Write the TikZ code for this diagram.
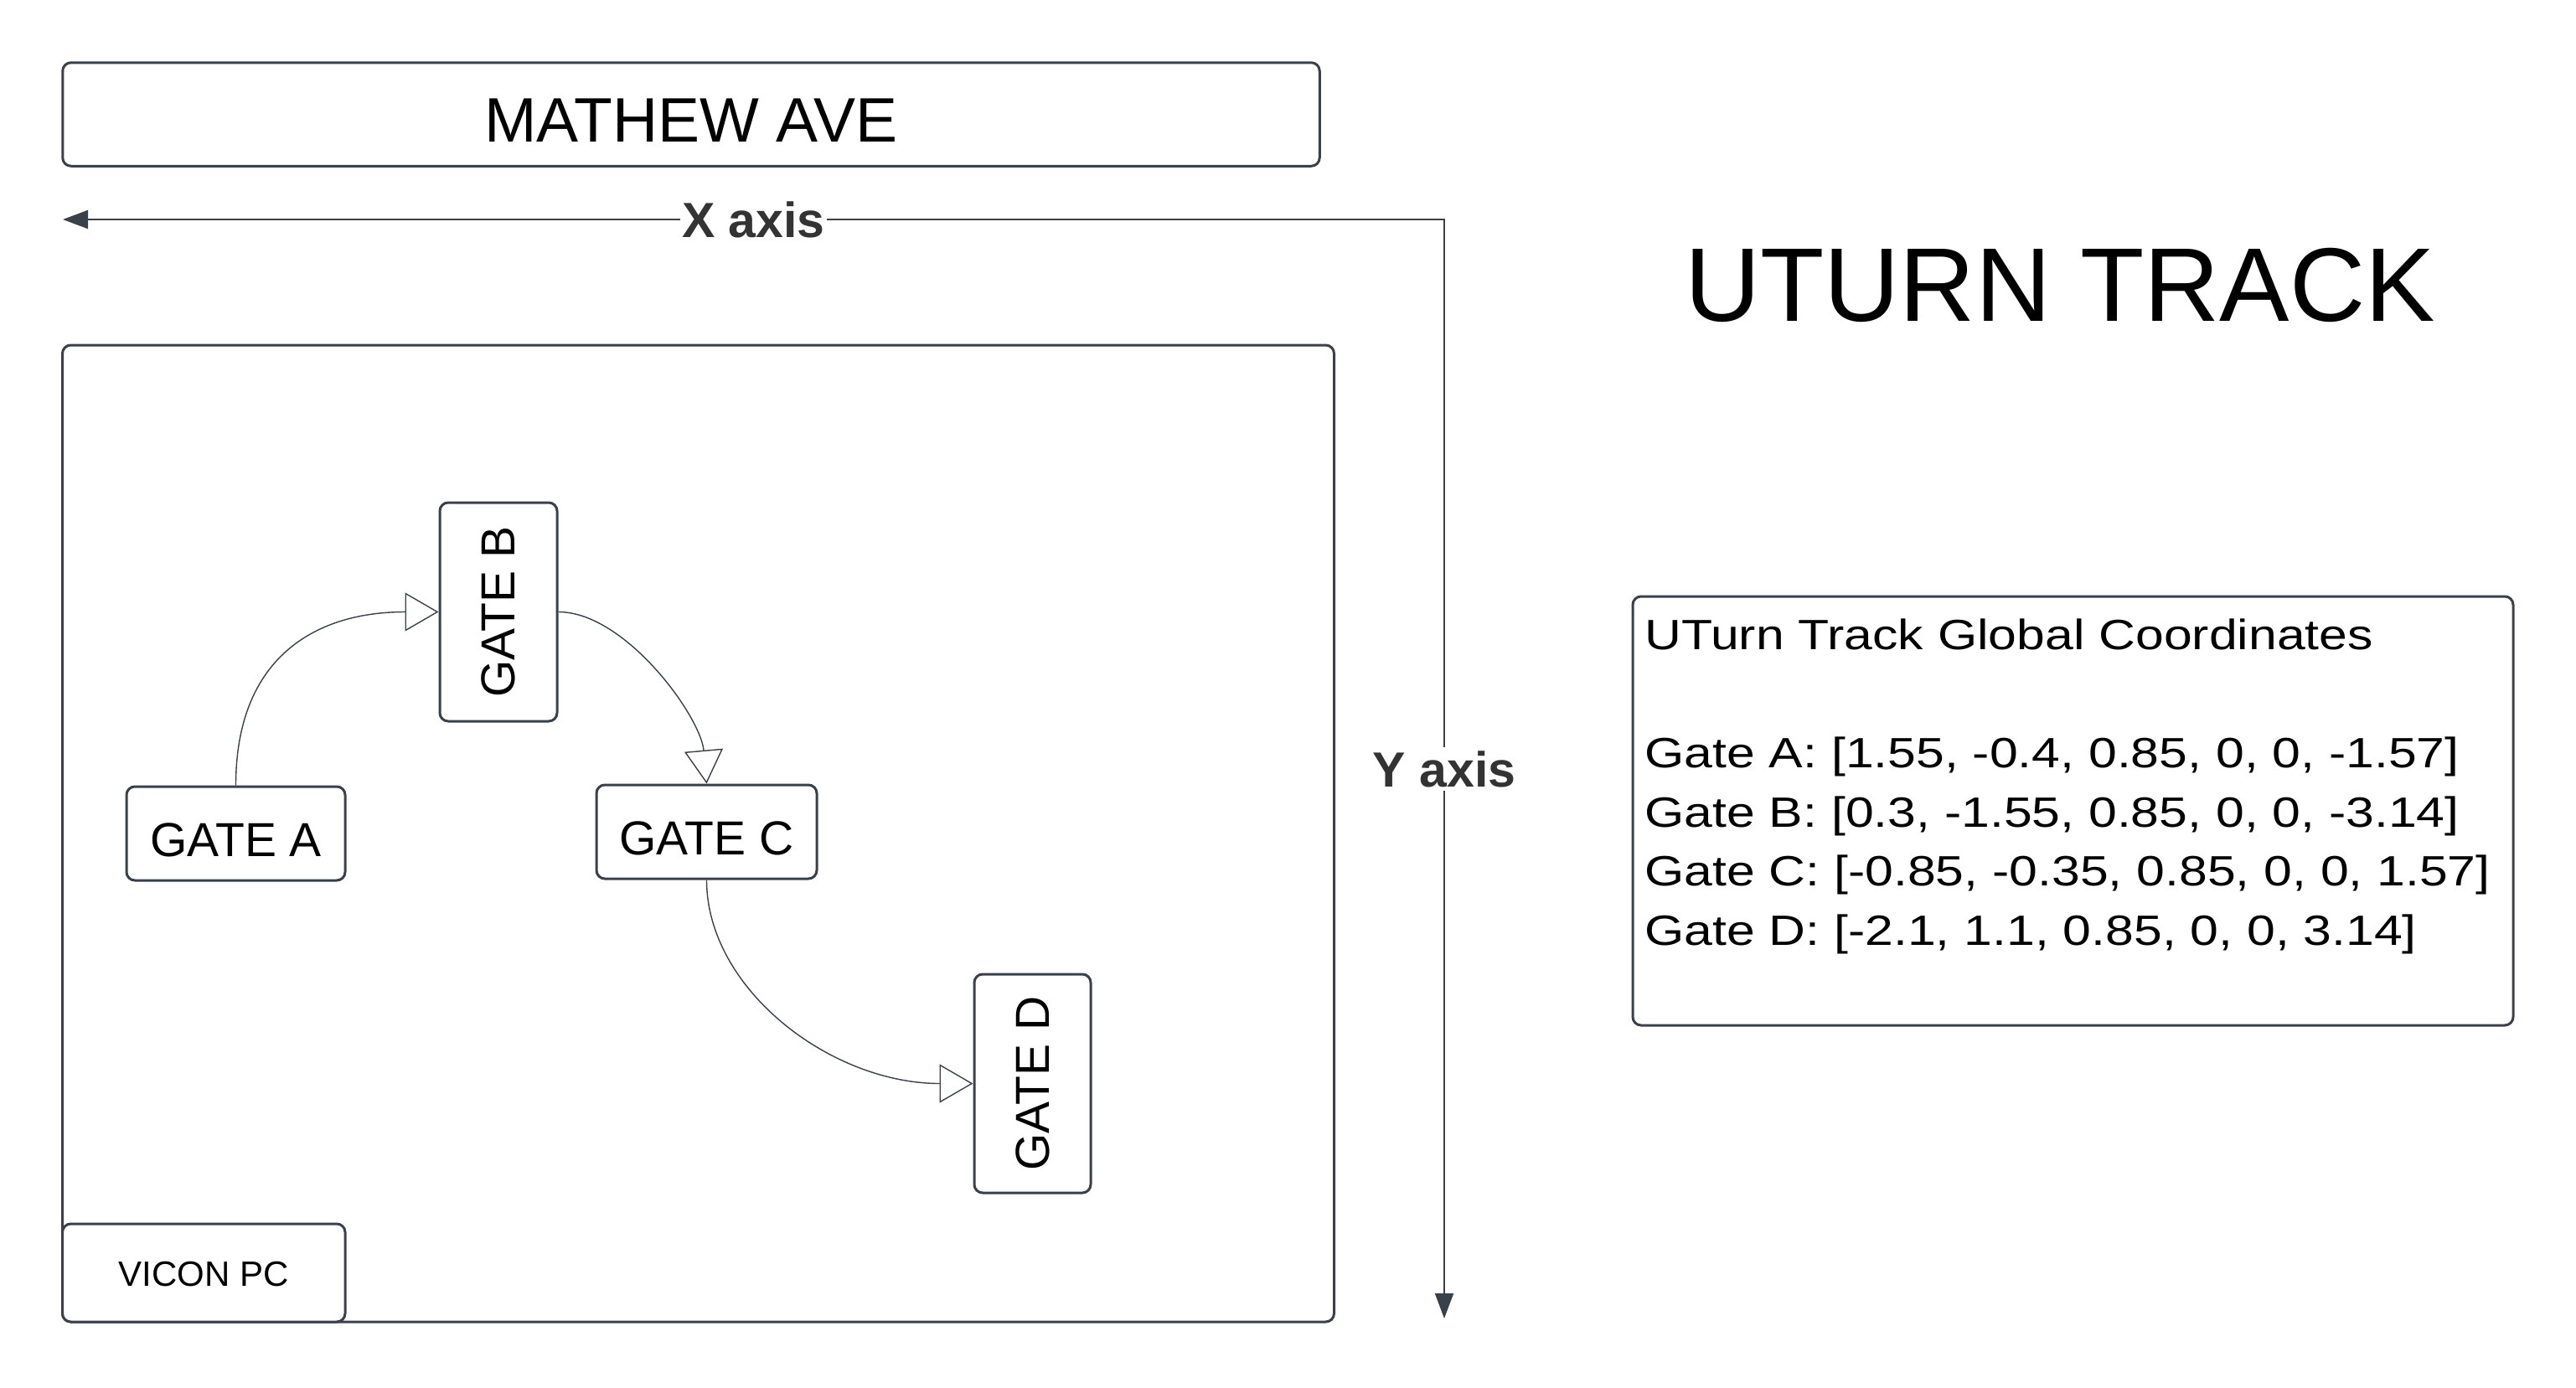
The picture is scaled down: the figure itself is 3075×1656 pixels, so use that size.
\documentclass[tikz,border=0pt]{standalone}
\usepackage{fontspec}
\setmainfont{Liberation Sans}
\newfontfamily\coordfont{Liberation Sans}[FakeStretch=1.2]
\usepackage{graphicx}
\usetikzlibrary{arrows.meta}
\definecolor{linec}{HTML}{3A414A}
\definecolor{labc}{HTML}{333333}
\begin{document}
\begin{tikzpicture}[x=0.5pt,y=-0.5pt,
  box/.style={draw=linec, line width=1.5pt, rounded corners=5pt, fill=white, inner sep=0pt, text=black},
  conn/.style={draw=linec, line width=0.7pt, -{Triangle[length=20pt, width=23pt, fill=white]}},
  axisline/.style={draw=linec, line width=1pt, {Triangle[length=15pt,width=11pt]}-{Triangle[length=15pt,width=11pt]}},
  axislabel/.style={fill=white, text=labc, font=\bfseries\fontsize{29.5pt}{34pt}\selectfont, inner xsep=1pt, inner ysep=2pt},
  gatefont/.style={font=\fontsize{28.5pt}{34pt}\selectfont},
  hgate/.style={box, gatefont, minimum width=131pt, minimum height=56pt, text height=27.4pt, text depth=0pt},
  vgate/.style={box, gatefont, minimum width=70pt, minimum height=130.5pt}
]
\useasboundingbox (0,0) rectangle (3075,1656);
\fill[white] (0,0) rectangle (3075,1656);

% street
\node[box, minimum width=750.25pt, minimum height=61.75pt,
      font=\fontsize{37.5pt}{45pt}\selectfont, text height=32.8pt, text depth=0pt]
      (mathew) at (825,136.5) {MATHEW AVE};

% axes
\coordinate (corner) at (1724,262);
\coordinate (xend) at (75,262);
\coordinate (yend) at (1724,1574);
\draw[axisline] (xend) -- node[axislabel]{X axis} (corner) -- node[axislabel]{Y axis} (yend);

% track area
\node[box, minimum width=759pt, minimum height=583pt] (track) at (833.5,995) {};
\node[box, minimum width=168.75pt, minimum height=58.5pt,
      font=\fontsize{21pt}{25pt}\selectfont, text height=16pt, text depth=0pt]
      (vicon) at (243.25,1519.5) {VICON PC};

% gates
\node[hgate, minimum width=130.5pt] (gA) at (281.5,995) {GATE A};
\node[vgate] (gB) at (595,730.5) {\rotatebox{90}{GATE B}};
\node[hgate, minimum width=131.5pt] (gC) at (843.5,993) {GATE C};
\node[vgate, minimum width=69.5pt] (gD) at (1232.5,1293.5) {\rotatebox{90}{GATE D}};

% connectors
\draw[conn] (gA.north) .. controls +(0,-150) and +(-150,0) .. (gB.west);
\draw[conn] (gB.east) .. controls +(80,0) and +(-7,-80) .. (gC.north);
\draw[conn] (gC.south) .. controls +(0,130) and +(-170,0) .. (gD.west);

% title
\node[anchor=base, inner sep=0pt, font=\fontsize{62.5pt}{70pt}\selectfont] (title) at (2459,383) {UTURN TRACK};

% coordinates box
\node[box, minimum width=525.5pt, minimum height=256pt] (coordbox) at (2474.5,968) {};
\node[anchor=base west, inner sep=0pt, align=left,
      font=\coordfont\fontsize{25.3pt}{35.25pt}\selectfont] (coordtxt) at (1963,1128)
 {UTurn Track Global Coordinates\\[35.25pt]
  Gate A: [1.55, -0.4, 0.85, 0, 0, -1.57]\\
  Gate B: [0.3, -1.55, 0.85, 0, 0, -3.14]\\
  Gate C: [-0.85, -0.35, 0.85, 0, 0, 1.57]\\
  Gate D: [-2.1, 1.1, 0.85, 0, 0, 3.14]};
\end{tikzpicture}
\end{document}
